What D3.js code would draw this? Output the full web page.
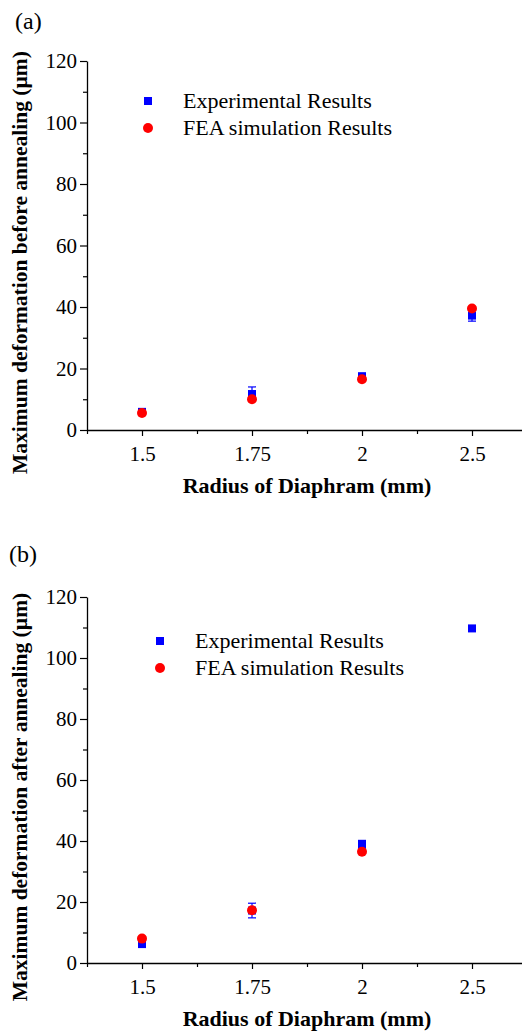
<!DOCTYPE html>
<html>
<head>
<meta charset="utf-8">
<script src="https://cdn.jsdelivr.net/npm/d3@7"></script>
<style>
  body { margin: 0; background: #fff; }
</style>
</head>
<body>
<script>
// radius categories (mm)
const radii = ['1.5', '1.75', '2', '2.5']
const yTicks = [0, 20, 40, 60, 80, 100, 120]

// (a) before annealing
const expBefore = [5.9, 11.7, 17.5, 37.2]
const expBeforeErr = [0.6, 2.3, 0.7, 1.8]
const feaBefore = [5.5, 10.0, 16.5, 39.5]

// (b) after annealing
const expAfter = [6.2, 17.2, 38.8, 109.7]
const expAfterErr = [0.6, 2.4, 1.4, 0.5]
const feaAfter = [8.0, 17.3, 36.5, null]

const W = 522, H = 1033
const FONT = "'Liberation Serif', 'Times New Roman', serif"

const svg = d3.select('body').append('svg')
  .attr('width', W)
  .attr('height', H)

const panels = [
  { label: '(a)', labelX: 15, labelY: 29, top: 61, bottom: 430,
    ytitle: 'Maximum deformation before annealing (\u00b5m)',
    exp: expBefore, err: expBeforeErr, fea: feaBefore, legX: 148, legY: 101 },
  { label: '(b)', labelX: 9, labelY: 562, top: 597, bottom: 963,
    ytitle: 'Maximum deformation after annealing (\u00b5m)',
    exp: expAfter, err: expAfterErr, fea: feaAfter, legX: 160, legY: 641 }
]

const x = d3.scaleLinear().domain([0.5, 4.5]).range([87, 527])

function txt(sel, size, bold) {
  return sel.style('font-family', FONT)
    .style('font-size', size + 'px')
    .style('font-weight', bold ? 'bold' : 'normal')
    .attr('fill', '#000')
}

panels.forEach(function(p) {
  const g = svg.append('g')
  const y = d3.scaleLinear().domain([0, 120]).range([p.bottom, p.top])

  g.append('text')
    .attr('x', p.labelX).attr('y', p.labelY)
    .text(p.label)
    .call(txt, 24)

  // y axis, minor then major ticks
  g.append('g')
    .attr('transform', 'translate(87,0)')
    .call(d3.axisLeft(y).tickValues(d3.range(10, 120, 20)).tickSize(4).tickFormat(''))
    .call(a => a.select('.domain').remove())
  const ya = g.append('g')
    .attr('transform', 'translate(87,0)')
    .call(d3.axisLeft(y).tickValues(yTicks).tickSize(7).tickPadding(3).tickSizeOuter(0))
  ya.selectAll('text').call(txt, 21)

  // x axis
  g.append('g')
    .attr('transform', 'translate(0,' + p.bottom + ')')
    .call(d3.axisBottom(x).tickValues([0.5, 1.5, 2.5, 3.5]).tickSize(4).tickFormat(''))
    .call(a => a.select('.domain').remove())
  const xa = g.append('g')
    .attr('transform', 'translate(0,' + p.bottom + ')')
    .call(d3.axisBottom(x).tickValues([1, 2, 3, 4]).tickSize(6).tickPadding(10).tickSizeOuter(0)
      .tickFormat((d, i) => radii[i]))
  xa.selectAll('text').call(txt, 21)
  g.selectAll('.domain').attr('stroke-width', 1.3)
  g.selectAll('.tick line').attr('stroke-width', 1.2)

  g.append('text')
    .attr('x', 307).attr('y', p.bottom + 63)
    .attr('text-anchor', 'middle')
    .text('Radius of Diaphram (mm)')
    .call(txt, 22, true)

  g.append('text')
    .attr('transform', 'translate(27,' + ((p.top + p.bottom) / 2 + 17) + ') rotate(-90)')
    .attr('text-anchor', 'middle')
    .text(p.ytitle)
    .call(txt, 21.5, true)

  // error bars
  const eb = g.append('g').attr('stroke', '#0000ff').attr('stroke-width', 1.2)
  p.exp.forEach(function(v, i) {
    const cx = x(i + 1)
    eb.append('line').attr('x1', cx).attr('x2', cx)
      .attr('y1', y(v - p.err[i])).attr('y2', y(v + p.err[i]))
    eb.append('line').attr('x1', cx - 4).attr('x2', cx + 4)
      .attr('y1', y(v - p.err[i])).attr('y2', y(v - p.err[i]))
    eb.append('line').attr('x1', cx - 4).attr('x2', cx + 4)
      .attr('y1', y(v + p.err[i])).attr('y2', y(v + p.err[i]))
  })

  g.selectAll('.sq')
    .data(p.exp)
    .enter()
    .append('rect')
      .attr('x', (d, i) => x(i + 1) - 4)
      .attr('y', d => y(d) - 4)
      .attr('width', 8).attr('height', 8)
      .attr('fill', '#0000ff')

  g.selectAll('.dot')
    .data(p.fea.filter(d => d !== null).map((v, i) => [i + 1, v]))
    .enter()
    .append('circle')
      .attr('cx', d => x(d[0]))
      .attr('cy', d => y(d[1]))
      .attr('r', 5)
      .attr('fill', '#ff0000')

  // legend
  g.append('rect')
    .attr('x', p.legX - 4).attr('y', p.legY - 4)
    .attr('width', 8).attr('height', 8)
    .attr('fill', '#0000ff')
  g.append('circle')
    .attr('cx', p.legX).attr('cy', p.legY + 27).attr('r', 5)
    .attr('fill', '#ff0000')
  g.append('text')
    .attr('x', p.legX + 35).attr('y', p.legY + 7)
    .text('Experimental Results')
    .call(txt, 22)
  g.append('text')
    .attr('x', p.legX + 35).attr('y', p.legY + 34)
    .text('FEA simulation Results')
    .call(txt, 22)
})
</script>
</body>
</html>
